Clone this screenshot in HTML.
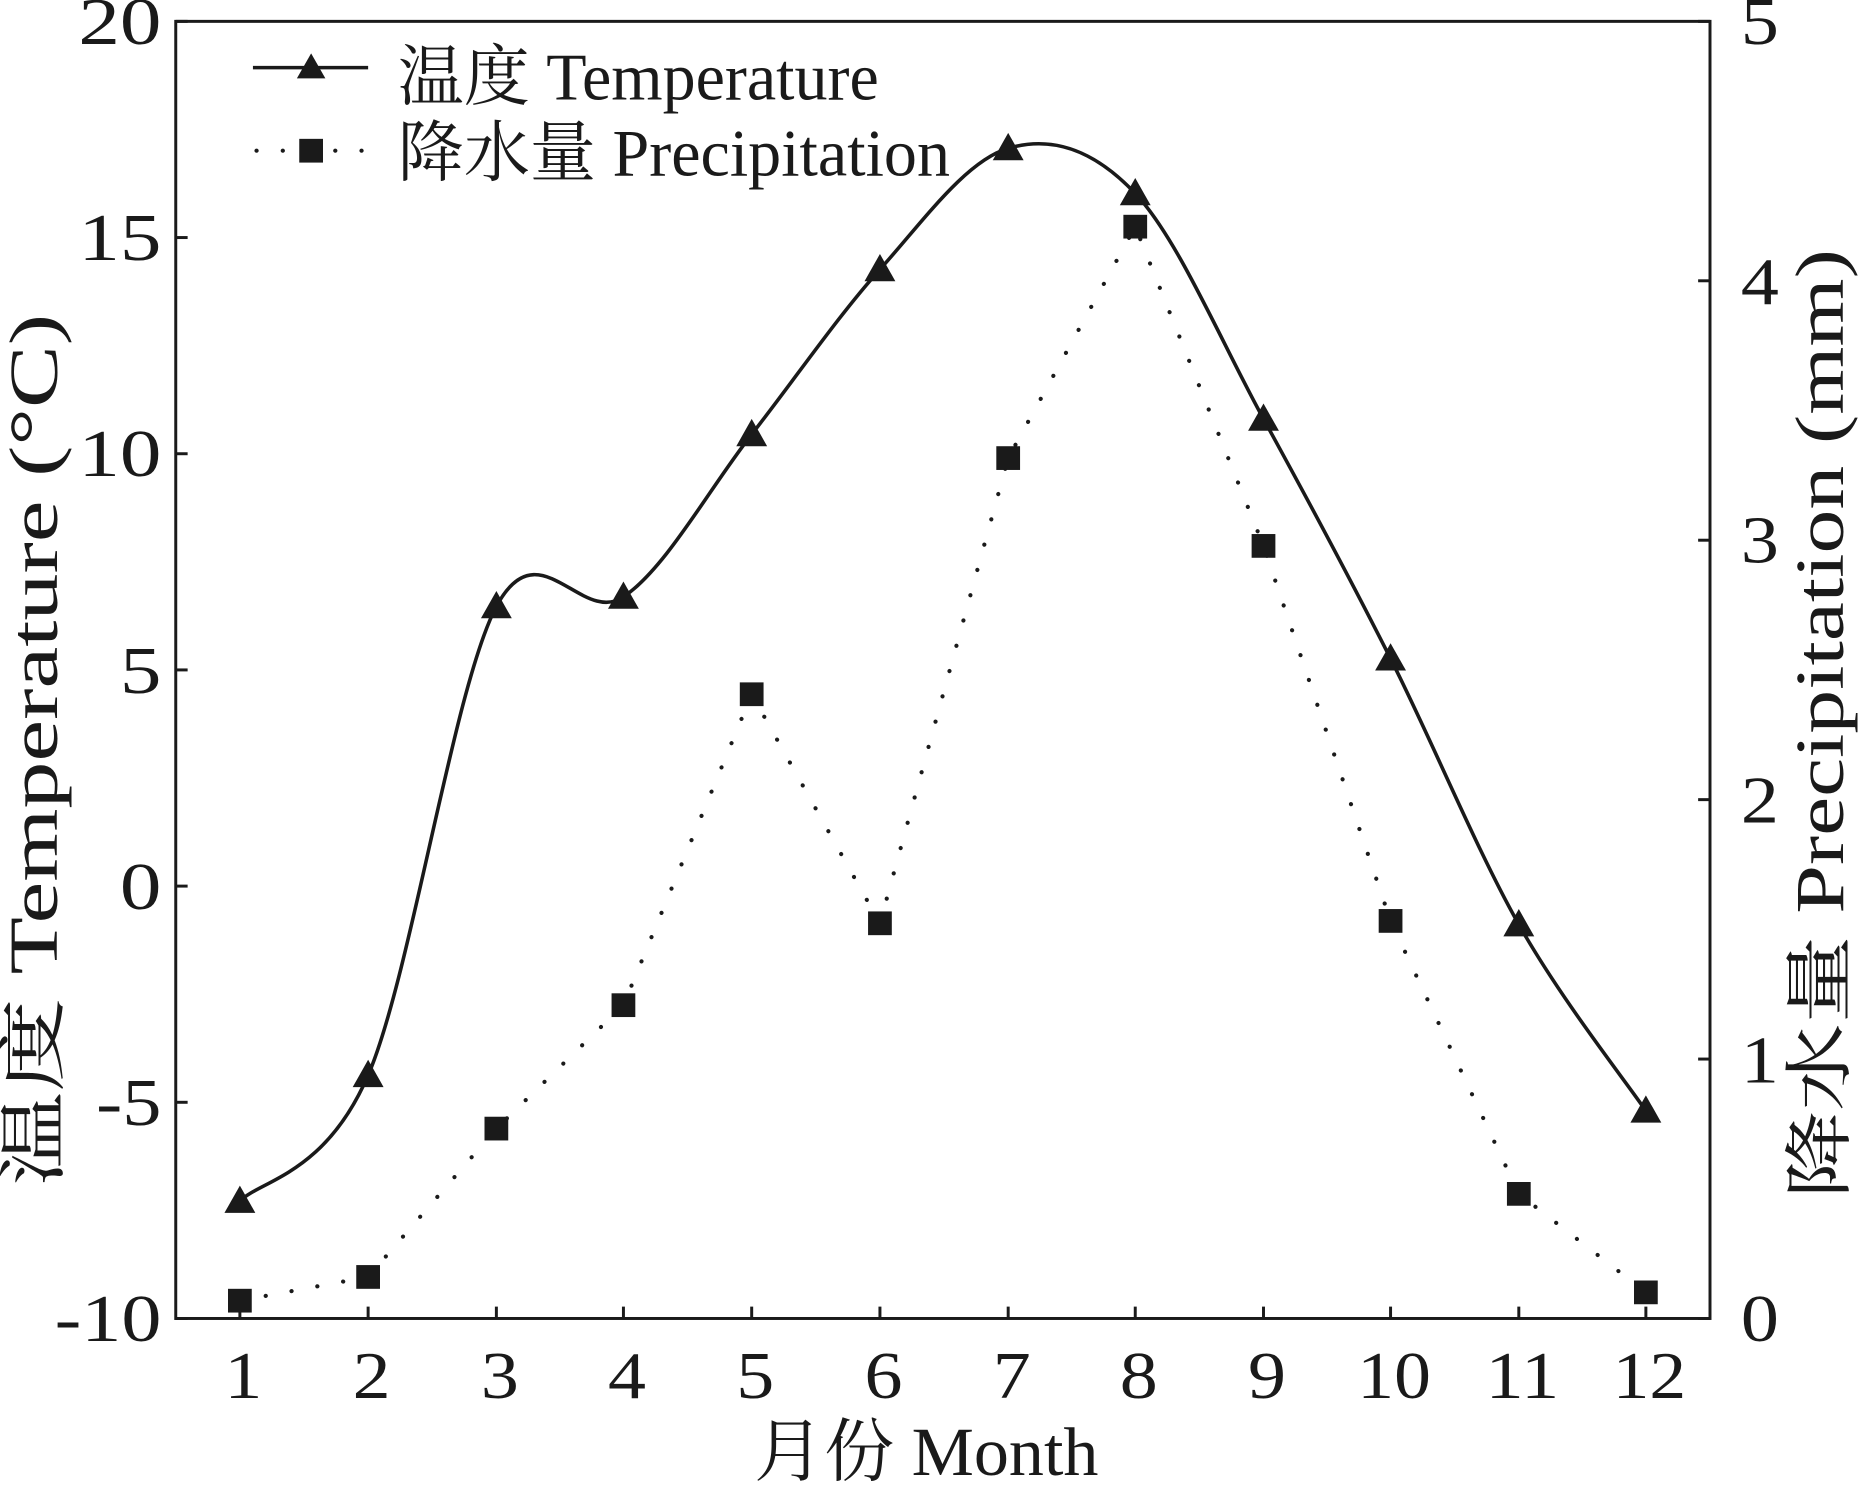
<!DOCTYPE html>
<html><head><meta charset="utf-8"><style>
html,body{margin:0;padding:0;background:#fff;}
svg{display:block;}
text{font-family:"Liberation Serif","Noto Serif CJK SC",serif;fill:#1a1a1a;}
</style></head><body>
<svg id="s" width="1862" height="1487" viewBox="0 0 1568 1253" preserveAspectRatio="none" xmlns="http://www.w3.org/2000/svg">
<rect x="148" y="18" width="1292" height="1093" fill="none" stroke="#1a1a1a" stroke-width="2.5"/>
<g id="ticks" stroke="#1a1a1a" stroke-width="2.5"></g>
<g font-size="56" text-anchor="end" lengthAdjust="spacingAndGlyphs">
<text x="136" y="37" textLength="70" lengthAdjust="spacingAndGlyphs">20</text>
<text x="136" y="219" textLength="70" lengthAdjust="spacingAndGlyphs">15</text>
<text x="136" y="401" textLength="70" lengthAdjust="spacingAndGlyphs">10</text>
<text x="136" y="584" textLength="35" lengthAdjust="spacingAndGlyphs">5</text>
<text x="136" y="766" textLength="35" lengthAdjust="spacingAndGlyphs">0</text>
<text x="136" y="948" textLength="55" lengthAdjust="spacingAndGlyphs">-5</text>
<text x="136" y="1130" textLength="90" lengthAdjust="spacingAndGlyphs">-10</text>
</g>
<g font-size="56" text-anchor="start">
<text x="1466" y="37" textLength="32" lengthAdjust="spacingAndGlyphs">5</text>
<text x="1466" y="256" textLength="32" lengthAdjust="spacingAndGlyphs">4</text>
<text x="1466" y="474" textLength="32" lengthAdjust="spacingAndGlyphs">3</text>
<text x="1466" y="693" textLength="32" lengthAdjust="spacingAndGlyphs">2</text>
<text x="1466" y="912" textLength="32" lengthAdjust="spacingAndGlyphs">1</text>
<text x="1466" y="1130" textLength="32" lengthAdjust="spacingAndGlyphs">0</text>
</g>
<g id="xl" font-size="56" text-anchor="middle"></g>
<text x="780" y="1243" font-size="58" text-anchor="middle" textLength="290" lengthAdjust="spacingAndGlyphs">月份 Month</text>
<text transform="translate(48,632) rotate(-90)" font-size="58" text-anchor="middle" textLength="735" lengthAdjust="spacingAndGlyphs">温度 Temperature (°C)</text>
<text transform="translate(1552,610) rotate(-90)" font-size="58" text-anchor="middle" textLength="800" lengthAdjust="spacingAndGlyphs">降水量 Precipitation (mm)</text>
<path id="tp" fill="none" stroke="#1a1a1a" stroke-width="3"/>
<path id="pp" fill="none" stroke="#1a1a1a" stroke-width="3.5" stroke-dasharray="0.1 22" stroke-linecap="round"/>
<g id="mk" fill="#1a1a1a"></g>
<line x1="213" y1="57" x2="310" y2="57" stroke="#1a1a1a" stroke-width="3"/>
<polygon points="262,45 250,66 274,66" fill="#1a1a1a"/>
<line x1="216" y1="127" x2="310" y2="127" stroke="#1a1a1a" stroke-width="3.5" stroke-dasharray="0.1 22" stroke-linecap="round"/>
<rect x="252" y="117" width="20" height="20" fill="#1a1a1a"/>
<text x="335" y="84" font-size="56" textLength="405" lengthAdjust="spacingAndGlyphs">温度 Temperature</text>
<text x="335" y="148" font-size="56" textLength="465" lengthAdjust="spacingAndGlyphs">降水量 Precipitation</text>
</svg>
<script>
var xs=[202,310,418,525,633,741,849,956,1064,1171,1279,1386];
var T=[1012,906,511,503,366,227,125,163,353,555,779,936];
var P=[1096,1076,951,847,585,778,386,191,460,776,1006,1089];
function cr(ys){var p=[];for(var i=0;i<xs.length;i++)p.push([xs[i],ys[i]]);
var d="M"+p[0][0]+","+p[0][1];
for(var i=0;i<p.length-1;i++){var a=p[i-1]||p[i],b=p[i],c=p[i+1],e=p[i+2]||c;
d+=" C"+(b[0]+(c[0]-a[0])/6)+","+(b[1]+(c[1]-a[1])/6)+" "+(c[0]-(e[0]-b[0])/6)+","+(c[1]-(e[1]-b[1])/6)+" "+c[0]+","+c[1];}
return d;}
document.getElementById("tp").setAttribute("d",cr(T));
var pd="M"+xs[0]+","+P[0];for(var i=1;i<12;i++)pd+=" L"+xs[i]+","+P[i];
document.getElementById("pp").setAttribute("d",pd);
var ns="http://www.w3.org/2000/svg",mk=document.getElementById("mk"),tk=document.getElementById("ticks"),xl=document.getElementById("xl");
for(var i=0;i<12;i++){
var t=document.createElementNS(ns,"polygon");var x=xs[i],y=T[i];
t.setAttribute("points",x+","+(y-13)+" "+(x-13)+","+(y+10)+" "+(x+13)+","+(y+10));mk.appendChild(t);
var r=document.createElementNS(ns,"rect");r.setAttribute("x",x-10);r.setAttribute("y",P[i]-10);r.setAttribute("width",20);r.setAttribute("height",20);mk.appendChild(r);
var l=document.createElementNS(ns,"line");l.setAttribute("x1",x);l.setAttribute("x2",x);l.setAttribute("y1",1111);l.setAttribute("y2",1101);tk.appendChild(l);
var tx=document.createElementNS(ns,"text");tx.setAttribute("x",x+3);tx.setAttribute("y",1178);tx.textContent=(i+1);
tx.setAttribute("textLength",(i+1>=10?62:32));tx.setAttribute("lengthAdjust","spacingAndGlyphs");xl.appendChild(tx);}
for(var j=0;j<=6;j++){var y=18+j*1093/6;var l=document.createElementNS(ns,"line");l.setAttribute("x1",148);l.setAttribute("x2",158);l.setAttribute("y1",y);l.setAttribute("y2",y);tk.appendChild(l);}
for(var j=0;j<=5;j++){var y=18+j*1093/5;var l=document.createElementNS(ns,"line");l.setAttribute("x1",1430);l.setAttribute("x2",1440);l.setAttribute("y1",y);l.setAttribute("y2",y);tk.appendChild(l);}
</script>
</body></html>
